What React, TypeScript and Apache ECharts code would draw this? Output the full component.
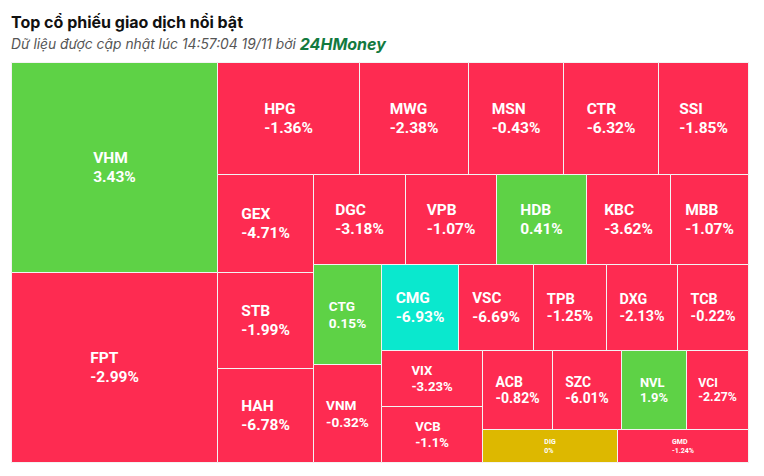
import React, { useEffect, useRef } from "react";
import * as echarts from "echarts";

// ---- data ----
const tickers = [
  "VHM", "FPT", "HPG", "MWG", "MSN", "CTR", "SSI", "GEX", "STB", "HAH",
  "DGC", "VPB", "HDB", "KBC", "MBB", "CTG", "VNM", "CMG", "VSC", "TPB",
  "DXG", "TCB", "VIX", "VCB", "ACB", "SZC", "NVL", "VCI", "DIG", "GMD",
];
// estimated trading value (relative)
const tradeValues = [
  432.0, 392.6, 158.6, 121.1, 107.2, 106.1, 100.1, 93.2, 92.2, 89.1,
  83.1, 81.9, 81.3, 75.6, 70.2, 69.0, 67.6, 65.9, 64.2, 63.2,
  61.0, 60.9, 56.5, 56.4, 55.7, 54.7, 51.6, 48.9, 44.2, 42.8,
];
// price change, %
const changes = [
  3.43, -2.99, -1.36, -2.38, -0.43, -6.32, -1.85, -4.71, -1.99, -6.78,
  -3.18, -1.07, 0.41, -3.62, -1.07, 0.15, -0.32, -6.93, -6.69, -1.25,
  -2.13, -0.22, -3.23, -1.1, -0.82, -6.01, 1.9, -2.27, 0, -1.24,
];
// tickers that closed at the floor price
const floorTickers = ["CMG"];

const titleText = "Top cổ phiếu giao dịch nổi bật";
const updatedText = "Dữ liệu được cập nhật lúc 14:57:04 19/11 bởi ";
const sourceText = "24HMoney";

const COLOR_UP = "#5ED246";
const COLOR_DOWN = "#FE2B51";
const COLOR_FLAT = "#DDB800";
const COLOR_FLOOR = "#0AE8CE";

function colorFor(i: number): string {
  if (floorTickers.indexOf(tickers[i]) >= 0) return COLOR_FLOOR;
  if (changes[i] > 0) return COLOR_UP;
  if (changes[i] < 0) return COLOR_DOWN;
  return COLOR_FLAT;
}

type R = { x: number; y: number; w: number; h: number };

// Squarified treemap whose strips alternate between columns and rows
function alternatingSquarify(values: number[], width: number, height: number): R[] {
  const total = values.reduce((s, v) => s + v, 0);
  const areas = values.map((v) => (v / total) * width * height);
  const out: R[] = [];
  let x = 0;
  let y = 0;
  let w = width;
  let h = height;
  let vertical = true;
  let row: number[] = [];
  const sum = (a: number[]) => a.reduce((s, v) => s + v, 0);
  const aspect = (strip: number[], item: number) => {
    const s = sum(strip);
    if (vertical) {
      const cw = s / h;
      const ch = item / cw;
      return Math.max(cw / ch, ch / cw);
    }
    const rh = s / w;
    const rw = item / rh;
    return Math.max(rw / rh, rh / rw);
  };
  const place = (strip: number[], last: boolean) => {
    const s = sum(strip);
    if (vertical) {
      const cw = last ? w : s / h;
      let cy = y;
      strip.forEach((a) => {
        const ch = a / cw;
        out.push({ x, y: cy, w: cw, h: ch });
        cy += ch;
      });
      x += cw;
      w -= cw;
    } else {
      const rh = last ? h : s / w;
      let cx = x;
      strip.forEach((a) => {
        const rw = a / rh;
        out.push({ x: cx, y, w: rw, h: rh });
        cx += rw;
      });
      y += rh;
      h -= rh;
    }
    vertical = !vertical;
  };
  areas.forEach((a) => {
    if (row.length) {
      const prev = row[row.length - 1];
      const before = aspect(row, prev);
      const after = aspect([...row, a], prev);
      if (after > before) {
        place(row, false);
        row = [];
      }
    }
    row.push(a);
  });
  if (row.length) place(row, true);
  return out;
}

export default function App() {
  const ref = useRef<HTMLDivElement>(null);

  useEffect(() => {
    if (!ref.current) return;
    document.body.style.margin = "0";
    const chart = echarts.init(ref.current, null, { renderer: "svg" });

    let cache: { key: string; rects: R[] } = { key: "", rects: [] };

    const renderItem = (params: any, api: any) => {
      const cs = params.coordSys;
      const key = cs.width + "x" + cs.height;
      if (cache.key !== key) {
        cache = { key, rects: alternatingSquarify(tradeValues, cs.width, cs.height) };
      }
      const i = params.dataIndex;
      const r = cache.rects[i];
      const p0 = api.coord([r.x / cs.width, r.y / cs.height]);
      const p1 = api.coord([(r.x + r.w) / cs.width, (r.y + r.h) / cs.height]);
      const x0 = Math.round(p0[0]);
      const y0 = Math.round(p0[1]);
      const x1 = Math.round(p1[0]);
      const y1 = Math.round(p1[1]);
      const bw = x1 - x0;
      const bh = y1 - y0;
      const fs = Math.max(5, Math.min(15.5, (bw - 6) / 4.55, (bh - 6.7) / 3.75));
      const lh = Math.round(fs * 1.2 * 10) / 10;
      const token = {
        align: "left",
        fill: "#ffffff",
        fontSize: fs,
        lineHeight: lh,
        fontWeight: "bold",
        fontFamily: "Roboto",
      };
      return {
        type: "rect",
        shape: { x: x0 + 0.5, y: y0 + 0.5, width: bw, height: bh },
        style: { fill: colorFor(i), stroke: "#f3f3f3", lineWidth: 1 },
        textContent: {
          style: {
            text: `{n|${tickers[i]}}\n{n|${changes[i]}%}`,
            rich: { n: token },
            fill: "#ffffff",
            fontSize: fs,
            fontWeight: "bold",
            fontFamily: "Roboto",
          },
        },
        textConfig: { position: "inside" },
      };
    };

    chart.setOption({
      animation: false,
      title: {
        text: titleText,
        left: 11,
        top: 13,
        padding: 0,
        itemGap: 4,
        textStyle: {
          fontFamily: "Inter",
          fontWeight: "bold",
          fontSize: 16,
          lineHeight: 18,
          color: "#111111",
        },
        subtext: `{a|${updatedText}}{b|${sourceText}}`,
        subtextStyle: {
          lineHeight: 18,
          rich: {
            a: {
              fontFamily: "Inter",
              fontStyle: "italic",
              fontSize: 13.8,
              color: "#555555",
              lineHeight: 18,
            },
            b: {
              fontFamily: "Inter",
              fontStyle: "italic",
              fontWeight: "bold",
              fontSize: 16,
              color: "#137a3f",
              lineHeight: 18,
            },
          },
        },
      },
      grid: { left: 11, top: 62, right: 16, bottom: 14 },
      xAxis: { type: "value", min: 0, max: 1, show: false },
      yAxis: { type: "value", min: 0, max: 1, inverse: true, show: false },
      tooltip: { show: false },
      series: [
        {
          type: "custom",
          coordinateSystem: "cartesian2d",
          renderItem,
          data: tickers.map((t, i) => ({ name: t, value: [i, tradeValues[i], changes[i]] })),
          encode: { x: 0, y: 1 },
          clip: false,
        },
      ],
    });

    return () => chart.dispose();
  }, []);

  return <div ref={ref} style={{ width: 764, height: 476, background: "#ffffff" }} />;
}
